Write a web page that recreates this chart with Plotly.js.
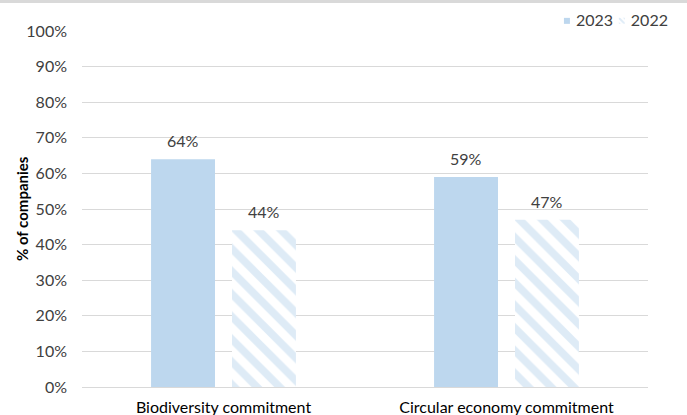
<!DOCTYPE html>
<html>
<head>
<meta charset="utf-8">
<script src="https://cdn.plot.ly/plotly-3.0.1.min.js"></script>
<style>
  html, body { margin: 0; padding: 0; background: #fff; }
  #chart { width: 687px; height: 415px; box-sizing: border-box; border-top: 3px solid #d9d9d9; }
  /* small square legend swatches sitting right next to their labels */
  #chart g.legendpoints {
    transform-box: fill-box;
    transform-origin: center;
    transform: translate(11px, 1px) scale(0.5);
  }
</style>
</head>
<body>
<div id="chart"></div>
<script>
// Share of companies with each commitment, by year
const categories = ['Biodiversity commitment', 'Circular economy commitment'];
const values2023 = [64, 59];
const values2022 = [44, 47];
const yTicks = [0, 10, 20, 30, 40, 50, 60, 70, 80, 90, 100];

const blue = '#bdd7ee';
const textColor = '#404040';
const fontFamily = 'Lato';

const bargap = 0.428;
const bargroupgap = 0.21;

const traces = [
  {
    type: 'bar',
    name: '2023',
    x: categories,
    y: values2023,
    marker: { color: blue },
    legend: 'legend',
    hoverinfo: 'skip'
  },
  {
    type: 'bar',
    name: '2022',
    x: categories,
    y: values2022,
    marker: {
      color: '#ffffff',
      pattern: { shape: '\\', fgcolor: blue, bgcolor: '#ffffff', size: 16, solidity: 0.48, fillmode: 'overlay' }
    },
    legend: 'legend2',
    hoverinfo: 'skip'
  }
];

// Value labels above each bar, shifted to the bar's slot inside its group
const margin = { l: 82, r: 39, t: 28, b: 28, autoexpand: false };
const plotWidth = 687 - margin.l - margin.r;
const catWidth = plotWidth / categories.length;
const slotOffset = catWidth * (1 - bargap) / 4;

const valueLabels = [];
[values2023, values2022].forEach((series, si) => {
  series.forEach((v, ci) => {
    valueLabels.push({
      x: categories[ci],
      y: v,
      xref: 'x',
      yref: 'y',
      text: v + '%',
      showarrow: false,
      xanchor: 'center',
      yanchor: 'bottom',
      xshift: si === 0 ? -slotOffset : slotOffset,
      yshift: 7,
      font: { family: fontFamily, size: 16, color: textColor }
    });
  });
});

const yTitle = {
  text: '<b>% of companies</b>',
  xref: 'paper',
  yref: 'paper',
  x: -0.106,
  y: 0.5,
  xanchor: 'center',
  yanchor: 'middle',
  textangle: -90,
  showarrow: false,
  font: { family: fontFamily, size: 15, color: '#000000' }
};

const legendBase = {
  orientation: 'h',
  xanchor: 'left',
  y: 1.031,
  yanchor: 'middle',
  font: { family: fontFamily, size: 16, color: textColor },
  itemwidth: 30,
  bgcolor: 'rgba(0,0,0,0)'
};

const layout = {
  width: 687,
  height: 412,
  margin: margin,
  paper_bgcolor: '#ffffff',
  plot_bgcolor: '#ffffff',
  font: { family: fontFamily, size: 16, color: textColor },
  barmode: 'group',
  bargap: bargap,
  bargroupgap: bargroupgap,
  showlegend: true,
  legend: Object.assign({}, legendBase, { x: 0.802 }),
  legend2: Object.assign({}, legendBase, { x: 0.899 }),
  annotations: valueLabels.concat([yTitle]),
  xaxis: {
    type: 'category',
    showgrid: false,
    showline: false,
    ticks: '',
    ticklabelstandoff: 9,
    tickfont: { family: fontFamily, size: 16, color: '#000000' }
  },
  yaxis: {
    range: [0, 100],
    tickvals: yTicks,
    ticktext: yTicks.map(v => v + '%'),
    showgrid: true,
    gridcolor: '#d9d9d9',
    gridwidth: 1,
    zeroline: true,
    zerolinecolor: '#d9d9d9',
    zerolinewidth: 1,
    showline: false,
    ticks: '',
    ticklabelstandoff: 14,
    tickfont: { family: fontFamily, size: 16, color: textColor }
  }
};

Plotly.newPlot('chart', traces, layout, { displayModeBar: false, staticPlot: true });
</script>
</body>
</html>
